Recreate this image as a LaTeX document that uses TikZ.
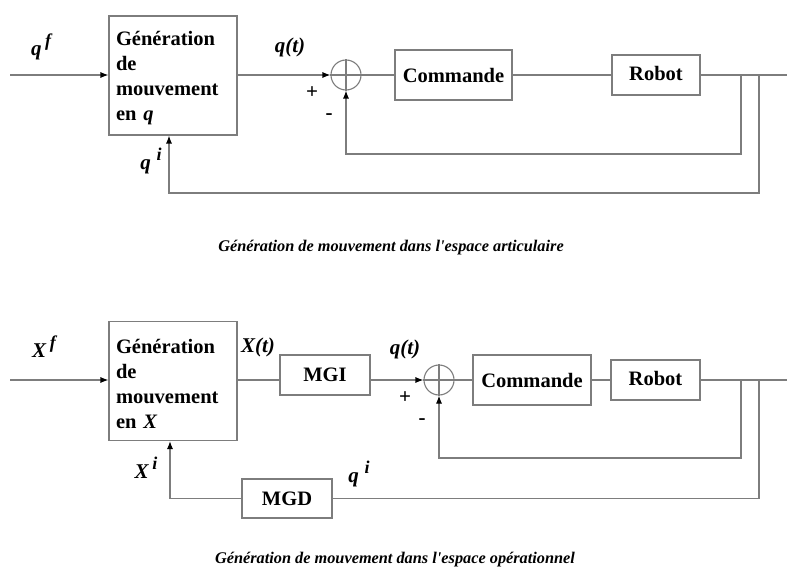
\documentclass[tikz,border=0pt]{standalone}
\usepackage{fontspec}
\setmainfont{Liberation Serif}[Ligatures=TeXOff]
\usetikzlibrary{arrows.meta}
\definecolor{lc}{RGB}{125,125,125}
\newcommand{\supr}[1]{\raisebox{9pt}{\fontsize{18}{20}\selectfont #1}}
\begin{document}
\begin{tikzpicture}[x=1pt,y=-1pt,
  box/.style={draw=lc, line width=1.1pt, inner sep=0pt, font=\bfseries\fontsize{20.5}{25}\selectfont},
  genbox/.style={box, minimum width=128pt, minimum height=119pt},
  gentxt/.style={inner sep=0pt, font=\bfseries\fontsize{20.5}{25}\selectfont, text width=114pt, align=left},
  ln/.style={draw=lc, line width=1.1pt},
  arr/.style={ln, -{Latex[length=8pt,width=6pt,color=black]}},
  sumc/.style={draw=lc, line width=1.1pt, circle, minimum size=30pt, inner sep=0pt},
  lab/.style={font=\bfseries\itshape\fontsize{21}{24}\selectfont, inner sep=0pt},
  sgn/.style={font=\bfseries\fontsize{21}{24}\selectfont, inner sep=0pt},
  captxt/.style={font=\bfseries\itshape\fontsize{16.3}{19}\selectfont, inner sep=0pt}]
\useasboundingbox (0,0) rectangle (787,572);

% ---------------- top diagram ----------------
\coordinate (inA) at (10,75);
\node[genbox] (genA) at (173,75.5) {};
\node[gentxt] (genAt) at ([yshift=-3pt]genA.center) {Génération\\de\\mouvement\\en \textit{q}};
\node[sumc] (sumA) at (346,75) {};
\draw[ln] (sumA.north) -- (sumA.south) (sumA.west) -- (sumA.east);
\node[box, minimum width=117pt, minimum height=50pt] (cmdA) at (453.5,75) {Commande};
\node[box, minimum width=88pt, minimum height=40pt] (robA) at (656,75) {\raisebox{3pt}{Robot}};
\coordinate (outA) at (787,75);
\coordinate (b1A) at (741,75);
\coordinate (b2A) at (759,75);
\coordinate (c1A) at (741,154);
\coordinate (c2A) at (759,193);

\draw[arr] (inA) -- (genA.west |- inA);
\draw[arr] (genA.east |- inA) -- (sumA.west);
\draw[ln] (sumA.east) -- (cmdA.west);
\draw[ln] (cmdA.east) -- (robA.west);
\draw[ln] (robA.east) -- (outA);
\draw[arr] (b1A) -- (c1A) -| (sumA.south);
\draw[arr] (b2A) -- (c2A) -| ([xshift=-4pt]genA.south);

\node[lab] (qf) at (41,47) {q\,\supr{f}};
\node[lab] (qt) at (290,47) {q(t)};
\node[sgn] (plusA) at (312,93) {+};
\node[sgn] (minusA) at (329,117) {-};
\node[lab] (qi) at (151,161) {q\;\supr{i}};

\node[captxt] (capA) at (391,248) {Génération de mouvement dans l'espace articulaire};

% ---------------- bottom diagram ----------------
\coordinate (inB) at (10,380);
\node[genbox] (genB) at (173,381) {};
\node[gentxt] (genBt) at ([yshift=-3pt]genB.center) {Génération\\de\\mouvement\\en \textit{X}};
\node[box, minimum width=90pt, minimum height=40pt] (mgi) at (325,375) {MGI};
\node[sumc] (sumB) at (439,380) {};
\draw[ln] (sumB.north) -- (sumB.south) (sumB.west) -- (sumB.east);
\node[box, minimum width=118pt, minimum height=50pt] (cmdB) at (532,380) {Commande};
\node[box, minimum width=89pt, minimum height=40pt] (robB) at (655.5,380) {\raisebox{3pt}{Robot}};
\node[box, minimum width=90pt, minimum height=39pt] (mgd) at (287,498.5) {MGD};
\coordinate (outB) at (787,380);
\coordinate (b1B) at (741,380);
\coordinate (b2B) at (759,380);
\coordinate (c1B) at (741,458);
\coordinate (c2B) at (759,498.5);

\draw[arr] (inB) -- (genB.west |- inB);
\draw[ln] (genB.east |- inB) -- (mgi.west |- inB);
\draw[arr] (mgi.east |- inB) -- (sumB.west);
\draw[ln] (sumB.east) -- (cmdB.west);
\draw[ln] (cmdB.east) -- (robB.west);
\draw[ln] (robB.east) -- (outB);
\draw[arr] (b1B) -- (c1B) -| (sumB.south);
\draw[ln] (b2B) -- (c2B) -- (mgd.east);
\draw[arr] (mgd.west) -| ([xshift=-3pt]genB.south);

\node[lab] (Xf) at (44,347) {X\,\supr{f}};
\node[lab] (Xt) at (258,347) {X(t)};
\node[lab] (qtB) at (405,349) {q(t)};
\node[sgn] (plusB) at (405,398) {+};
\node[sgn] (minusB) at (422,422) {-};
\node[lab] (Xi) at (146,468) {X\,\supr{i}};
\node[lab] (qiB) at (359,474) {q\;\supr{i}};

\node[captxt] (capB) at (395,560) {Génération de mouvement dans l'espace opérationnel};
\end{tikzpicture}
\end{document}
